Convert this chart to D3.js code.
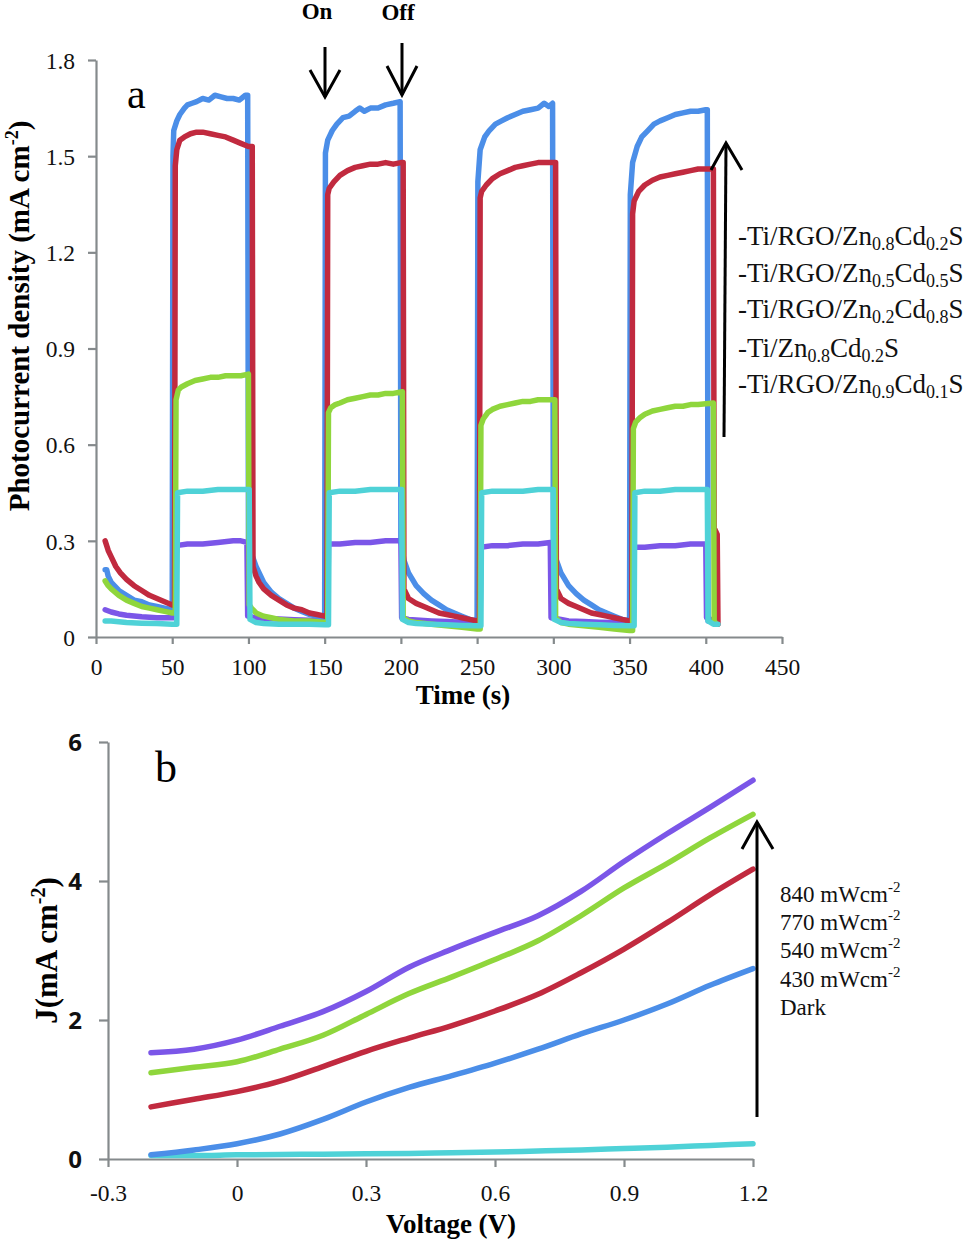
<!DOCTYPE html>
<html><head><meta charset="utf-8">
<script src="https://cdn.jsdelivr.net/npm/d3@7"></script>
<style>
body{margin:0;background:#fff;}
svg{display:block;}
</style></head>
<body>
<svg id="chart" width="980" height="1244"></svg>
<script>
// ---------- Panel (a) data: time (s), photocurrent density (mA cm-2) ----------
const xTicksA = [0,50,100,150,200,250,300,350,400,450];
const yTicksA = [0,0.3,0.6,0.9,1.2,1.5,1.8];
const legendA = [
  ["-Ti/RGO/Zn","0.8","Cd","0.2","S"],
  ["-Ti/RGO/Zn","0.5","Cd","0.5","S"],
  ["-Ti/RGO/Zn","0.2","Cd","0.8","S"],
  ["-Ti/Zn","0.8","Cd","0.2","S"],
  ["-Ti/RGO/Zn","0.9","Cd","0.1","S"]
];
const aPurple = [[6,0.085],[10,0.078],[15,0.072],[20,0.068],[30,0.063],[40,0.06],[50,0.06],[52,0.06],
 [52.5,0.285],[60,0.29],[70,0.29],[80,0.295],[90,0.30],[95,0.30],[99,0.295],
 [99.5,0.065],[105,0.06],[110,0.058],[120,0.056],[130,0.054],[140,0.052],[150,0.05],[152,0.05],
 [152.5,0.29],[160,0.29],[170,0.295],[180,0.295],[190,0.30],[200,0.30],
 [200.5,0.06],[205,0.055],[210,0.053],[220,0.05],[230,0.048],[240,0.046],[250,0.045],[252,0.045],
 [252.5,0.28],[260,0.285],[270,0.285],[280,0.29],[290,0.29],[298,0.295],
 [298.5,0.06],[305,0.055],[310,0.05],[320,0.048],[330,0.046],[340,0.045],[350,0.045],[352,0.045],
 [352.5,0.28],[360,0.28],[370,0.285],[380,0.285],[390,0.29],[400,0.29],
 [400.5,0.06],[406,0.05]];
const aBlue = [[6,0.21],[7,0.21],[8,0.19],[10,0.17],[15,0.145],[20,0.13],[25,0.115],[30,0.11],[35,0.10],[40,0.095],[45,0.09],[50,0.085],
 [50.5,1.50],[51,1.58],[53,1.61],[55,1.63],[58,1.65],[60,1.66],[63,1.665],[66,1.67],[70,1.68],[74,1.675],[78,1.69],[82,1.685],[86,1.68],[90,1.68],[94,1.675],[98,1.69],[99.5,1.69],
 [100,0.30],[102,0.26],[105,0.22],[110,0.17],[115,0.14],[120,0.12],[125,0.105],[130,0.09],[135,0.08],[140,0.07],[145,0.065],[150,0.06],
 [150.5,1.51],[152,1.55],[155,1.58],[158,1.60],[162,1.62],[166,1.625],[170,1.64],[173,1.65],[176,1.64],[180,1.65],[185,1.65],[190,1.66],[195,1.665],[199.5,1.67],
 [200,0.30],[202,0.24],[205,0.20],[210,0.16],[215,0.135],[220,0.115],[225,0.10],[230,0.085],[235,0.075],[240,0.065],[245,0.055],[250,0.05],
 [250.5,1.42],[252,1.52],[255,1.56],[258,1.58],[262,1.60],[266,1.61],[270,1.62],[275,1.63],[280,1.64],[285,1.645],[290,1.65],[294,1.665],[297,1.655],[299.5,1.665],
 [300,0.30],[302,0.24],[305,0.20],[310,0.16],[315,0.135],[320,0.115],[325,0.10],[330,0.085],[335,0.075],[340,0.065],[345,0.055],[350,0.05],
 [350.5,1.38],[352,1.48],[355,1.53],[358,1.56],[362,1.58],[366,1.60],[370,1.61],[375,1.62],[380,1.63],[385,1.635],[390,1.64],[395,1.64],[400,1.645],[401,1.645],
 [401.5,0.05],[405,0.05]];
const aRed = [[6,0.30],[8,0.27],[10,0.25],[13,0.22],[16,0.20],[20,0.18],[25,0.16],[30,0.145],[35,0.13],[40,0.12],[45,0.11],[50,0.10],[51.5,0.10],
 [52,1.47],[53,1.52],[55,1.55],[58,1.56],[62,1.57],[66,1.575],[70,1.575],[75,1.57],[80,1.565],[85,1.56],[90,1.55],[95,1.54],[100,1.53],[102.5,1.53],
 [103,0.22],[105,0.19],[107,0.17],[110,0.15],[115,0.13],[120,0.115],[125,0.10],[130,0.09],[135,0.085],[140,0.075],[145,0.07],[150,0.065],[151.5,0.065],
 [152,1.38],[153,1.40],[156,1.42],[160,1.44],[165,1.455],[170,1.465],[175,1.47],[180,1.475],[185,1.475],[190,1.48],[195,1.475],[200,1.48],[201.5,1.48],
 [202,0.15],[205,0.12],[210,0.105],[215,0.095],[220,0.085],[225,0.075],[230,0.07],[235,0.065],[240,0.06],[245,0.055],[250,0.05],[251.5,0.05],
 [252,1.37],[253,1.39],[256,1.41],[260,1.43],[265,1.445],[270,1.455],[275,1.465],[280,1.47],[285,1.475],[290,1.48],[295,1.48],[300,1.48],[301.5,1.48],
 [302,0.15],[305,0.12],[310,0.105],[315,0.095],[320,0.085],[325,0.075],[330,0.07],[335,0.065],[340,0.06],[345,0.055],[350,0.05],[351.5,0.05],
 [352,1.32],[353,1.36],[356,1.39],[360,1.41],[365,1.425],[370,1.435],[375,1.44],[380,1.445],[385,1.45],[390,1.455],[395,1.46],[400,1.46],[405,1.46],
 [405.5,0.34],[407.5,0.32],[408,0.04]];
const aGreen = [[6,0.175],[8,0.16],[10,0.15],[15,0.13],[20,0.115],[25,0.105],[30,0.095],[35,0.09],[40,0.085],[45,0.08],[50,0.075],[52,0.075],
 [52.5,0.74],[54,0.77],[56,0.78],[60,0.79],[65,0.80],[70,0.805],[75,0.81],[80,0.81],[85,0.815],[90,0.815],[95,0.815],[100,0.82],
 [100.5,0.10],[102,0.09],[105,0.075],[110,0.065],[115,0.06],[120,0.055],[130,0.05],[140,0.05],[150,0.045],[152,0.045],
 [152.5,0.70],[154,0.715],[157,0.725],[160,0.73],[165,0.74],[170,0.745],[175,0.75],[180,0.755],[185,0.755],[190,0.76],[195,0.76],[201,0.765],
 [201.5,0.06],[205,0.05],[210,0.045],[220,0.04],[230,0.035],[240,0.03],[250,0.025],[252,0.025],
 [252.5,0.66],[254,0.68],[257,0.70],[260,0.71],[265,0.72],[270,0.725],[275,0.73],[280,0.735],[285,0.735],[290,0.74],[295,0.74],[301,0.74],
 [301.5,0.06],[305,0.045],[310,0.04],[320,0.035],[330,0.03],[340,0.025],[350,0.02],[352,0.02],
 [352.5,0.65],[354,0.67],[357,0.685],[360,0.695],[365,0.705],[370,0.71],[375,0.715],[380,0.72],[385,0.72],[390,0.725],[395,0.725],[405,0.73],
 [405.5,0.05],[407,0.04]];
const aCyan = [[6,0.05],[10,0.05],[20,0.045],[30,0.043],[40,0.042],[50,0.04],[53,0.04],
 [53.5,0.45],[60,0.455],[70,0.455],[80,0.46],[90,0.46],[100,0.46],[100.5,0.46],
 [101,0.055],[105,0.045],[110,0.042],[120,0.04],[130,0.04],[140,0.04],[150,0.038],[152.5,0.038],
 [153,0.45],[160,0.455],[170,0.455],[180,0.46],[190,0.46],[200,0.46],[200.5,0.46],
 [201,0.055],[205,0.045],[210,0.042],[220,0.04],[230,0.038],[240,0.036],[250,0.035],[252.5,0.035],
 [253,0.45],[260,0.455],[270,0.455],[280,0.455],[290,0.46],[300,0.46],
 [300.5,0.055],[305,0.045],[310,0.042],[320,0.04],[330,0.038],[340,0.036],[350,0.035],[353,0.035],
 [353.5,0.45],[360,0.455],[370,0.455],[380,0.46],[390,0.46],[400,0.46],[401,0.46],
 [401.5,0.05],[405,0.04],[408,0.04]];

// ---------- Panel (b) data: voltage (V), J (mA cm-2) ----------
const xTicksB = [-0.3,0,0.3,0.6,0.9,1.2];
const yTicksB = [0,2,4,6];
const voltage = [-0.2,-0.1,0,0.1,0.2,0.3,0.4,0.5,0.6,0.7,0.8,0.9,1.0,1.1,1.2];
const j840  = [1.53,1.58,1.71,1.91,2.12,2.41,2.76,3.02,3.26,3.50,3.85,4.28,4.68,5.06,5.45];
const j770  = [1.24,1.32,1.40,1.58,1.78,2.08,2.38,2.62,2.87,3.14,3.50,3.90,4.25,4.62,4.96];
const j540  = [0.75,0.86,0.97,1.12,1.33,1.55,1.74,1.92,2.13,2.37,2.68,3.02,3.40,3.80,4.17];
const j430  = [0.06,0.13,0.22,0.36,0.57,0.82,1.03,1.20,1.38,1.58,1.80,2.00,2.23,2.50,2.74];
const jDark = [0.05,0.05,0.06,0.065,0.07,0.075,0.08,0.09,0.10,0.115,0.13,0.15,0.17,0.195,0.22];
const legendB = ["840 mWcm","770 mWcm","540 mWcm","430 mWcm","Dark"];

// ---------- drawing ----------
const C = {blue:"#4b8ee8", red:"#c12a3f", green:"#8fd63c", cyan:"#4fd2d7", purple:"#7b56e8", axis:"#858a8c"};
const SERIF = "'Liberation Serif','Times New Roman',serif";
const SANS = "'Open Sans','Liberation Sans',sans-serif";
const svg = d3.select("#chart");

// Panel a
const xA = d3.scaleLinear().domain([0,450]).range([96,782]);
const yA = d3.scaleLinear().domain([0,1.8]).range([637,60]);
const gA = svg.append("g");
const axA_x = gA.append("g").attr("transform","translate(0,637)")
  .call(d3.axisBottom(xA).tickValues(xTicksA).tickSizeOuter(0).tickSizeInner(7).tickPadding(14).tickFormat(d3.format("d")));
const axA_y = gA.append("g").attr("transform","translate(96,0)")
  .call(d3.axisLeft(yA).tickValues(yTicksA).tickSizeOuter(0).tickSizeInner(8).tickPadding(13).tickFormat(d=>d===0?"0":d.toFixed(1)));
[axA_x,axA_y].forEach(a=>{
  a.attr("font-family",null).attr("font-size",null);
  a.select(".domain").attr("stroke",C.axis).attr("stroke-width",2.2);
  a.selectAll(".tick line").attr("stroke",C.axis).attr("stroke-width",2.2);
  a.selectAll(".tick text").style("font-family",SERIF).style("font-size","23.5px").attr("fill","#111");
});
axA_y.selectAll(".tick text").attr("dy","0.35em");

const lineA = d3.line().x(d=>xA(d[0])).y(d=>yA(d[1]));
[[aPurple,C.purple],[aBlue,C.blue],[aRed,C.red],[aGreen,C.green],[aCyan,C.cyan]].forEach(([data,col])=>{
  gA.append("path").datum(data).attr("d",lineA).attr("fill","none").attr("stroke",col)
    .attr("stroke-width",5.5).attr("stroke-linejoin","round").attr("stroke-linecap","round");
});

// titles panel a
gA.append("text").attr("x",463).attr("y",704).attr("text-anchor","middle")
  .style("font-family",SERIF).attr("font-weight","bold").attr("font-size",27).text("Time (s)");
const tA = gA.append("text").attr("transform","translate(29,316) rotate(-90)").attr("text-anchor","middle")
  .style("font-family",SERIF).attr("font-weight","bold").attr("font-size",29);
tA.append("tspan").text("Photocurrent density (mA cm");
tA.append("tspan").attr("dy",-11).attr("font-size",18).text("-2");
tA.append("tspan").attr("dy",11).text(")");
gA.append("text").attr("x",127).attr("y",108).style("font-family",SERIF).attr("font-size",42).text("a");

// On / Off arrows
gA.append("text").attr("x",317).attr("y",19).attr("text-anchor","middle").style("font-family",SERIF)
  .attr("font-weight","bold").attr("font-size",23).text("On");
gA.append("text").attr("x",398).attr("y",20).attr("text-anchor","middle").style("font-family",SERIF)
  .attr("font-weight","bold").attr("font-size",23).text("Off");
function downArrow(x,y0,y1,hw,hh){
  gA.append("line").attr("x1",x).attr("x2",x).attr("y1",y0).attr("y2",y1).attr("stroke","#000").attr("stroke-width",3);
  gA.append("polyline").attr("points",`${x-hw},${y1-hh} ${x},${y1} ${x+hw},${y1-hh}`).attr("fill","none")
    .attr("stroke","#000").attr("stroke-width",3);
}
downArrow(325,47,97,15,27);
downArrow(402,43,95,15,29);

// legend a
gA.append("line").attr("x1",724).attr("y1",437).attr("x2",726).attr("y2",144).attr("stroke","#000").attr("stroke-width",3);
gA.append("polyline").attr("points","711,170 726,143 742,170").attr("fill","none").attr("stroke","#000").attr("stroke-width",3);
const legAY = [245,282,318,357,393];
legendA.forEach((parts,i)=>{
  const t = gA.append("text").attr("x",738).attr("y",legAY[i]).style("font-family",SERIF).attr("font-size",27).attr("fill","#111");
  parts.forEach((p,k)=>{
    if(k%2===1){ t.append("tspan").attr("dy",5).attr("font-size",18).text(p); }
    else { t.append("tspan").attr("dy",k===0?0:-5).text(p); }
  });
});

// Panel b
const xB = d3.scaleLinear().domain([-0.3,1.2]).range([108,753]);
const yB = d3.scaleLinear().domain([0,6]).range([1159,742]);
const gB = svg.append("g");
const axB_x = gB.append("g").attr("transform","translate(0,1159)")
  .call(d3.axisBottom(xB).tickValues(xTicksB).tickSizeOuter(0).tickSizeInner(8).tickPadding(17).tickFormat(d=>d===0?"0":d.toFixed(1)));
const axB_y = gB.append("g").attr("transform","translate(108,0)")
  .call(d3.axisLeft(yB).tickValues(yTicksB).tickSizeOuter(0).tickSizeInner(9).tickPadding(17).tickFormat(d3.format("d")));
[axB_x,axB_y].forEach(a=>{
  a.attr("font-family",null).attr("font-size",null);
  a.select(".domain").attr("stroke",C.axis).attr("stroke-width",2.2);
  a.selectAll(".tick line").attr("stroke",C.axis).attr("stroke-width",2.2);
});
axB_x.selectAll(".tick text").style("font-family",SERIF).style("font-size","23.5px").attr("fill","#111");
axB_y.selectAll(".tick text").style("font-family",SANS).style("font-weight","700").style("font-size","24px").attr("fill","#111").attr("dy","0.36em");

const seriesB = [[jDark,C.cyan],[j430,C.blue],[j540,C.red],[j770,C.green],[j840,C.purple]];
const lineB = d3.line().x((d,i)=>xB(voltage[i])).y(d=>yB(d)).curve(d3.curveMonotoneX);
seriesB.forEach(([vals,col])=>{
  gB.append("path").datum(vals).attr("d",lineB).attr("fill","none").attr("stroke",col)
    .attr("stroke-width",5.5).attr("stroke-linecap","round");
});

gB.append("text").attr("x",451).attr("y",1233).attr("text-anchor","middle")
  .style("font-family",SERIF).attr("font-weight","bold").attr("font-size",27).text("Voltage (V)");
const tB = gB.append("text").attr("transform","translate(57,"+yB(3)+") rotate(-90)").attr("text-anchor","middle")
  .style("font-family",SERIF).attr("font-weight","bold").attr("font-size",31);
tB.append("tspan").text("J(mA cm");
tB.append("tspan").attr("dy",-12).attr("font-size",20).text("-2");
tB.append("tspan").attr("dy",12).text(")");
gB.append("text").attr("x",155).attr("y",782).style("font-family",SERIF).attr("font-size",44).text("b");

// legend b
gB.append("line").attr("x1",757).attr("y1",1117).attr("x2",757).attr("y2",824).attr("stroke","#000").attr("stroke-width",3);
gB.append("polyline").attr("points","742,849 757,822 773,849").attr("fill","none").attr("stroke","#000").attr("stroke-width",3);
const legBY = [902,930,958,987,1015];
legendB.forEach((s,i)=>{
  const t = gB.append("text").attr("x",780).attr("y",legBY[i]).style("font-family",SERIF).attr("font-size",23).attr("fill","#111");
  t.append("tspan").text(s);
  if(i<4) t.append("tspan").attr("dy",-10).attr("font-size",15).text("-2");
});
</script>
</body></html>
